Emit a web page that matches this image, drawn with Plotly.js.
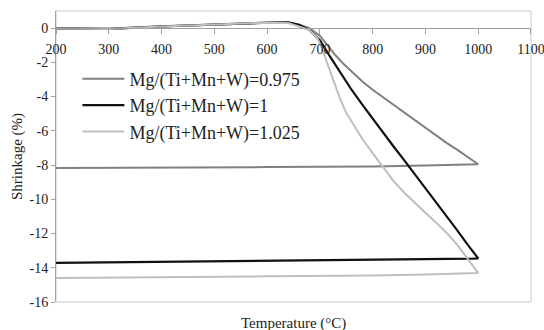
<!DOCTYPE html>
<html>
<head>
<meta charset="utf-8">
<script src="https://cdn.plot.ly/plotly-3.0.1.min.js"></script>
<style>html,body{margin:0;padding:0;background:#fff;}#chart{width:544px;height:330px;}</style>
</head>
<body>
<div id="chart"></div>
<script>
// Series names
var seriesNames = ["Mg/(Ti+Mn+W)=0.975", "Mg/(Ti+Mn+W)=1", "Mg/(Ti+Mn+W)=1.025"];

// Mg/(Ti+Mn+W)=0.975 : heating then cooling
var tempA = [200, 300, 400, 500, 600, 640, 660, 680, 700, 715, 730, 745, 760, 780, 800, 820, 840, 860, 880, 900, 920, 940, 960, 980, 1000,
             900, 800, 600, 400, 200];
var shrinkA = [-0.02, -0.05, 0.1, 0.22, 0.32, 0.35, 0.22, 0.0, -0.45, -1.05, -1.6, -2.1, -2.55, -3.1, -3.6, -4.05, -4.5, -4.95, -5.4, -5.85, -6.3, -6.7, -7.1, -7.5, -7.95,
               -8.02, -8.08, -8.12, -8.14, -8.17];

// Mg/(Ti+Mn+W)=1
var tempB = [200, 300, 400, 500, 600, 640, 660, 680, 700, 720, 740, 760, 780, 800, 820, 840, 860, 880, 900, 920, 940, 960, 980, 1000,
             990, 900, 800, 600, 400, 200];
var shrinkB = [-0.02, -0.05, 0.1, 0.22, 0.32, 0.33, 0.2, -0.1, -0.7, -1.7, -2.65, -3.6, -4.45, -5.3, -6.12, -6.93, -7.73, -8.53, -9.33, -10.13, -10.95, -11.8, -12.65, -13.45,
               -13.47, -13.5, -13.55, -13.6, -13.66, -13.72];

// Mg/(Ti+Mn+W)=1.025
var tempC = [200, 300, 400, 500, 600, 640, 660, 680, 695, 705, 714, 728, 738, 750, 765, 780, 800, 820, 840, 860, 880, 900, 920, 940, 960, 980, 1000,
             900, 800, 600, 400, 200];
var shrinkC = [-0.02, -0.05, 0.1, 0.22, 0.32, 0.3, 0.12, -0.1, -0.55, -1.25, -2.05, -3.3, -4.1, -4.95, -5.7, -6.45, -7.3, -8.15, -8.95, -9.62, -10.22, -10.78, -11.35, -11.95, -12.65, -13.45, -14.3,
               -14.4, -14.45, -14.5, -14.55, -14.6];

// Axis ticks
var xTicks = [200, 300, 400, 500, 600, 700, 800, 900, 1000, 1100];
var yTicks = [0, -2, -4, -6, -8, -10, -12, -14, -16];

var fontFam = "Liberation Serif";

var traces = [
  {x: tempA, y: shrinkA, name: seriesNames[0], mode: "lines", line: {color: "#808080", width: 2}},
  {x: tempB, y: shrinkB, name: seriesNames[1], mode: "lines", line: {color: "#111111", width: 2.2}},
  {x: tempC, y: shrinkC, name: seriesNames[2], mode: "lines", line: {color: "#bebebe", width: 2}}
];

var layout = {
  width: 544, height: 330,
  margin: {l: 56, r: 13, t: 11, b: 28},
  paper_bgcolor: "#fff", plot_bgcolor: "#fff",
  font: {family: fontFam, size: 14, color: "#222"},
  showlegend: true,
  legend: {x: 0.045, y: 0.83, xanchor: "left", yanchor: "top", bgcolor: "rgba(0,0,0,0)",
           font: {family: fontFam, size: 18, color: "#222"}, itemwidth: 42},
  xaxis: {range: [199.9, 1100.1], tickvals: xTicks, ticktext: xTicks.map(String),
          anchor: "free", position: 16/17, showgrid: false, zeroline: false,
          showline: true, linecolor: "#a0a0a0", linewidth: 1,
          ticks: "outside", ticklen: 5, tickcolor: "#a0a0a0", ticklabelstandoff: 3,
          ticklabeloverflow: "allow",
          tickfont: {family: fontFam, size: 14, color: "#222"}},
  yaxis: {range: [-16, 1], tickvals: yTicks, ticktext: yTicks.map(String),
          showgrid: false, zeroline: false,
          showline: true, linecolor: "#a0a0a0", linewidth: 1,
          ticks: "outside", ticklen: 4, tickcolor: "#a0a0a0",
          tickfont: {family: fontFam, size: 14, color: "#222"},
          title: {text: "Shrinkage (%)", font: {family: fontFam, size: 15, color: "#222"}, standoff: 3}},
  shapes: [
    {type: "rect", xref: "paper", yref: "paper", x0: 0, x1: 1, y0: 0, y1: 1,
     line: {color: "#c8c8c8", width: 1}, layer: "below"}
  ],
  annotations: [
    {text: "Temperature (°C)", xref: "paper", yref: "paper", x: 0.5, y: 0, yanchor: "middle",
     yshift: -21, showarrow: false, font: {family: fontFam, size: 15, color: "#222"}}
  ]
};

Plotly.newPlot("chart", traces, layout, {displayModeBar: false, staticPlot: true});
</script>
</body>
</html>
